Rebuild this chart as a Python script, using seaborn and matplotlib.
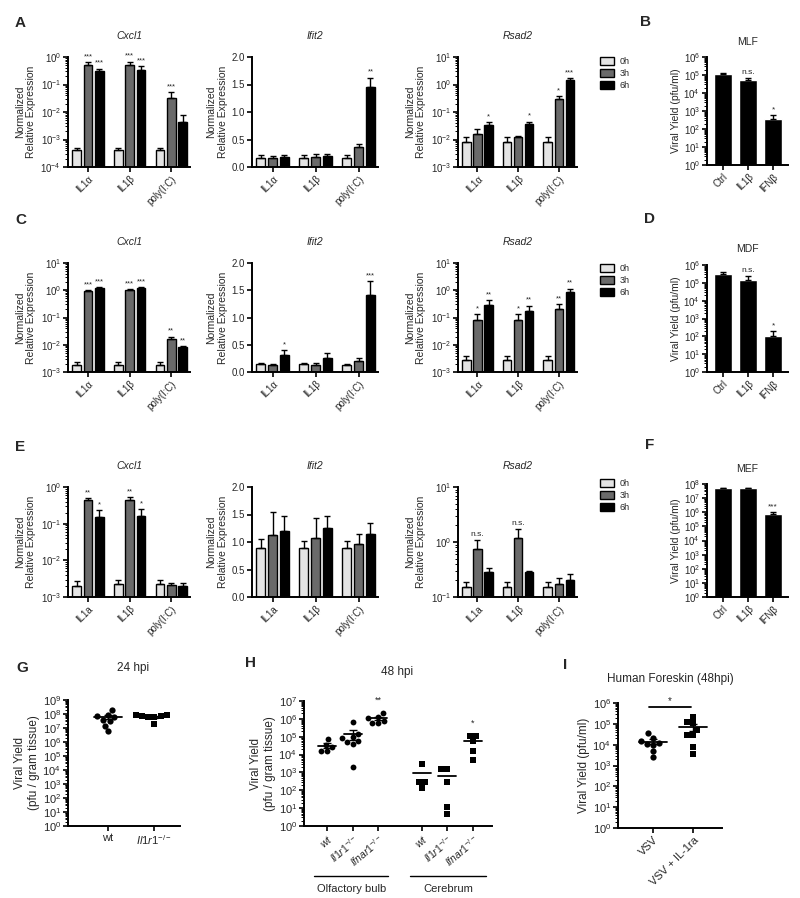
import numpy as np
import pandas as pd
import matplotlib
matplotlib.use('Agg')
import matplotlib.pyplot as plt
import seaborn as sns
from matplotlib.patches import Patch
from matplotlib.container import BarContainer
from matplotlib.ticker import LogLocator, NullFormatter
import warnings
warnings.filterwarnings('ignore')

sns.set_theme(style='ticks')
plt.rcParams['font.family'] = ['Liberation Sans', 'DejaVu Sans']
plt.rcParams['mathtext.fontset'] = 'custom'
plt.rcParams['mathtext.rm'] = 'Liberation Sans'
plt.rcParams['mathtext.it'] = 'Liberation Sans:italic'
plt.rcParams['mathtext.bf'] = 'Liberation Sans:bold'

# ---------------------------------------------------------------------------
# Data (rows = time point 0h/3h/6h, columns = stimulus)
# ---------------------------------------------------------------------------
times = ['0h', '3h', '6h']
stim = ['IL1α', 'IL1β', 'poly(I:C)']
stim_e = ['IL1a', 'IL1β', 'poly(I:C)']
treat = ['Ctrl', 'IL1β', 'IFNβ']

# Panel A
a_cxcl1 = [[4e-4, 4e-4, 4e-4], [0.5, 0.5, 0.033], [0.3, 0.35, 0.0045]]
a_cxcl1_err = [[1e-4, 1e-4, 1e-4], [0.15, 0.17, 0.02], [0.08, 0.12, 0.0035]]
a_cxcl1_sig = [['', '', ''], ['***', '***', '***'], ['***', '***', '']]
a_ifit2 = [[0.17, 0.17, 0.17], [0.16, 0.18, 0.36], [0.19, 0.20, 1.45]]
a_ifit2_err = [[0.04, 0.04, 0.04], [0.04, 0.05, 0.06], [0.03, 0.03, 0.17]]
a_ifit2_sig = [['', '', ''], ['', '', ''], ['', '', '**']]
a_rsad2 = [[0.008, 0.008, 0.008], [0.016, 0.012, 0.3], [0.033, 0.037, 1.5]]
a_rsad2_err = [[0.004, 0.004, 0.004], [0.008, 0.001, 0.08], [0.01, 0.008, 0.2]]
a_rsad2_sig = [['', '', ''], ['', '', '*'], ['*', '*', '***']]

# Panel C
c_cxcl1 = [[0.0018, 0.0018, 0.0018], [0.9, 1.0, 0.016], [1.25, 1.2, 0.008]]
c_cxcl1_err = [[0.0006, 0.0006, 0.0005], [0.1, 0.08, 0.004], [0.05, 0.1, 0.0008]]
c_cxcl1_sig = [['', '', ''], ['***', '***', '**'], ['***', '***', '**']]
c_ifit2 = [[0.14, 0.14, 0.13], [0.12, 0.13, 0.21], [0.32, 0.26, 1.42]]
c_ifit2_err = [[0.02, 0.03, 0.02], [0.02, 0.03, 0.04], [0.08, 0.08, 0.25]]
c_ifit2_sig = [['', '', ''], ['', '', ''], ['*', '', '***']]
c_rsad2 = [[0.0028, 0.0028, 0.0028], [0.08, 0.08, 0.2], [0.28, 0.17, 0.85]]
c_rsad2_err = [[0.001, 0.001, 0.001], [0.05, 0.05, 0.1], [0.15, 0.1, 0.3]]
c_rsad2_sig = [['', '', ''], ['*', '*', '**'], ['**', '**', '**']]

# Panel E
e_cxcl1 = [[0.002, 0.0022, 0.0022], [0.45, 0.45, 0.0021], [0.15, 0.16, 0.002]]
e_cxcl1_err = [[0.0008, 0.0008, 0.0008], [0.05, 0.08, 0.0003], [0.08, 0.09, 0.0004]]
e_cxcl1_sig = [['', '', ''], ['**', '**', ''], ['*', '*', '']]
e_ifit2 = [[0.9, 0.9, 0.9], [1.12, 1.08, 0.97], [1.2, 1.25, 1.15]]
e_ifit2_err = [[0.15, 0.12, 0.12], [0.42, 0.35, 0.18], [0.28, 0.22, 0.2]]
e_ifit2_sig = [['', '', ''], ['', '', ''], ['', '', '']]
e_rsad2 = [[0.15, 0.15, 0.15], [0.75, 1.2, 0.17], [0.28, 0.28, 0.2]]
e_rsad2_err = [[0.04, 0.04, 0.04], [0.35, 0.5, 0.05], [0.06, 0.02, 0.06]]
e_rsad2_sig = [['', '', ''], ['n.s.', 'n.s.', ''], ['', '', '']]

# Panels B, D, F (viral yield)
b_yield = [1.2e5, 5e4, 3.5e2]
b_err = [1.5e4, 1.5e4, 2.5e2]
d_yield = [3e5, 1.5e5, 1.1e2]
d_err = [8e4, 1e5, 8e1]
f_yield = [5e7, 5e7, 8e5]
f_err = [3e6, 5e6, 2e5]
b_sig = ['', 'n.s.', '*']
d_sig = ['', 'n.s.', '*']
f_sig = ['', '', '***']

# Panel G (24 hpi)
g_wt = [1.8e8, 8e7, 7e7, 6e7, 4e7, 3e7, 1.5e7, 6e6]
g_ko = [9e7, 8e7, 7e7, 7e7, 6e7, 6e7, 1.8e7]

# Panel H (48 hpi)
h_ob_wt = [7e4, 3.5e4, 2.5e4, 1.5e4, 1.6e4]
h_ob_il1r1 = [7e5, 1.5e5, 1e5, 8e4, 6e4, 5e4, 4e4, 2e3]
h_ob_ifnar1 = [2e6, 1.3e6, 1.1e6, 8e5, 6e5, 6e5]
h_cb_wt = [3e3, 3e2, 2.8e2, 1.4e2]
h_cb_il1r1 = [1.5e3, 1.5e3, 2.8e2, 11, 5]
h_cb_ifnar1 = [1.05e5, 1.05e5, 5.5e4, 1.6e4, 5e3]

# Panel I (human foreskin)
i_vsv = [3.5e4, 2.2e4, 1.5e4, 1.2e4, 1.1e4, 1e4, 5e3, 2.5e3]
i_ra = [2.2e5, 1.2e5, 1.1e5, 5e4, 3e4, 3e4, 8e3, 3.5e3]

bar_colors = ['#e4e4e4', '#6a6a6a', '#000000']

W, H = 800, 898
fig = plt.figure(figsize=(W / 100, H / 100), dpi=100)


def px_axes(x0, y0, x1, y1):
    return fig.add_axes([x0 / W, 1 - y1 / H, (x1 - x0) / W, (y1 - y0) / H])


def ftext(x, y, s, **kw):
    fig.text(x / W, 1 - y / H, s, **kw)


def style_axis(ax, log, lab=7):
    sns.despine(ax=ax)
    for sp in ['left', 'bottom']:
        ax.spines[sp].set_linewidth(1.4)
        ax.spines[sp].set_color('black')
    ax.tick_params(axis='both', which='major', direction='out', length=3.5,
                   width=1.2, labelsize=lab, pad=1.5, color='black')
    ax.tick_params(axis='y', which='minor', direction='out', length=2,
                   width=0.7, color='black')
    if log:
        ax.set_yscale('log')
        ax.yaxis.set_major_locator(LogLocator(base=10, numticks=30))
        ax.yaxis.set_minor_locator(LogLocator(base=10, subs=np.arange(2, 10), numticks=200))
        ax.yaxis.set_minor_formatter(NullFormatter())
    ax.grid(False)


def add_errors(ax, errs, sigs, cap=2.3, fs=5.5):
    bars = [c for c in ax.containers if isinstance(c, BarContainer)]
    for i, cont in enumerate(bars):
        for j, bar in enumerate(cont.patches):
            x = bar.get_x() + bar.get_width() / 2
            h = bar.get_height()
            ax.errorbar(x, h, yerr=[[0], [errs[i][j]]], fmt='none', ecolor='black',
                        elinewidth=1, capsize=cap, capthick=1, zorder=3)
            s = sigs[i][j]
            if s:
                ax.annotate(s, (x, h + errs[i][j]), xytext=(0, 1.5),
                            textcoords='offset points', ha='center', va='bottom',
                            fontsize=fs if '*' in s else 6, annotation_clip=False)


def expr_panel(rect, title, vals, errs, sigs, cats, ylim, log=True):
    ax = px_axes(*rect)
    df = pd.DataFrame([(c, t, vals[i][j]) for i, t in enumerate(times)
                       for j, c in enumerate(cats)], columns=['stim', 'time', 'value'])
    sns.barplot(data=df, x='stim', y='value', hue='time', order=cats, hue_order=times,
                palette=bar_colors, saturation=1, edgecolor='black', linewidth=1,
                errorbar=None, width=0.82, gap=0.25, legend=False, ax=ax)
    add_errors(ax, errs, sigs)
    style_axis(ax, log)
    ax.set_ylim(*ylim)
    if not log:
        ax.set_yticks([0, 0.5, 1.0, 1.5, 2.0])
        ax.set_yticklabels(['0.0', '0.5', '1.0', '1.5', '2.0'])
    ax.set_xlim(-0.48, 2.45)
    ax.set_xlabel('')
    ax.set_ylabel('Normalized\nRelative Expression', fontsize=7.5, labelpad=3)
    ax.set_xticks(range(3))
    ax.set_xticklabels(cats, rotation=45, ha='right', rotation_mode='anchor', fontsize=7)
    ax.set_title(title, fontsize=7.5, style='italic', pad=13)
    return ax


def yield_panel(rect, title, vals, errs, sigs, ymax):
    ax = px_axes(*rect)
    df = pd.DataFrame({'treat': treat, 'value': vals})
    sns.barplot(data=df, x='treat', y='value', color='black', saturation=1,
                width=0.72, errorbar=None, ax=ax)
    add_errors(ax, [errs], [sigs], cap=2.5, fs=6)
    style_axis(ax, True)
    ax.set_ylim(1, ymax)
    ax.set_xlim(-0.64, 2.6)
    ax.set_xlabel('')
    ax.set_ylabel('Viral Yield (pfu/ml)', fontsize=7.5, labelpad=2)
    ax.set_xticks(range(3))
    ax.set_xticklabels(treat, rotation=45, ha='right', rotation_mode='anchor', fontsize=7)
    ax.set_title(title, fontsize=7.5, pad=9)
    return ax


def legend_at(x, y):
    handles = [Patch(facecolor=c, edgecolor='black', linewidth=1) for c in bar_colors]
    fig.legend(handles, times, loc='upper left', bbox_to_anchor=(x / W, 1 - y / H),
               frameon=False, fontsize=6.5, handlelength=1.6, handleheight=0.9,
               labelspacing=0.35, handletextpad=0.6, borderaxespad=0, borderpad=0)


# ---------------------------------------------------------------------------
# Rows A, C, E
# ---------------------------------------------------------------------------
rows = [
    (57, 167, stim, [(a_cxcl1, a_cxcl1_err, a_cxcl1_sig, (1e-4, 1)),
                     (a_ifit2, a_ifit2_err, a_ifit2_sig, (0, 2)),
                     (a_rsad2, a_rsad2_err, a_rsad2_sig, (1e-3, 10))]),
    (263, 372, stim, [(c_cxcl1, c_cxcl1_err, c_cxcl1_sig, (1e-3, 10)),
                      (c_ifit2, c_ifit2_err, c_ifit2_sig, (0, 2)),
                      (c_rsad2, c_rsad2_err, c_rsad2_sig, (1e-3, 10))]),
    (487, 597, stim_e, [(e_cxcl1, e_cxcl1_err, e_cxcl1_sig, (1e-3, 1)),
                        (e_ifit2, e_ifit2_err, e_ifit2_sig, (0, 2)),
                        (e_rsad2, e_rsad2_err, e_rsad2_sig, (1e-1, 10))]),
]
xspans = [(68, 190), (252, 378), (458, 577)]
genes = ['Cxcl1', 'Ifit2', 'Rsad2']
for top, bot, cats, panels in rows:
    for k, (vals, errs, sigs, ylim) in enumerate(panels):
        x0, x1 = xspans[k]
        expr_panel((x0, top, x1, bot), genes[k], vals, errs, sigs, cats, ylim,
                   log=(genes[k] != 'Ifit2'))

legend_at(600, 57)
legend_at(600, 264)
legend_at(600, 479)

yield_panel((707, 57, 788, 165), 'MLF', b_yield, b_err, b_sig, 1e6)
yield_panel((707, 265, 788, 372), 'MDF', d_yield, d_err, d_sig, 1e6)
yield_panel((707, 484, 788, 597), 'MEF', f_yield, f_err, f_sig, 1e8)


# ---------------------------------------------------------------------------
# Scatter panels G, H, I
# ---------------------------------------------------------------------------
def mean_sem(ax, x, vals, half, sem=True):
    v = np.array(vals)
    m = v.mean()
    ax.plot([x - half, x + half], [m, m], color='black', lw=1.3, zorder=4)
    if sem:
        s = v.std(ddof=1) / np.sqrt(len(v))
        ax.errorbar(x, m, yerr=s, fmt='none', ecolor='black', elinewidth=1,
                    capsize=3, capthick=1, zorder=4)


def scatter_style(ax, ymax):
    style_axis(ax, True, lab=8)
    ax.set_ylim(1, ymax)
    ax.set_ylabel('Viral Yield\n(pfu / gram tissue)', fontsize=8.5, labelpad=2)
    ax.set_xlabel('')


# G
ax = px_axes(68, 700, 180, 826)
g_cats = ['wt', 'Il1r1']
ax.set_yscale('log')
sns.swarmplot(data=pd.DataFrame({'g': 'wt', 'v': g_wt}), x='g', y='v', order=g_cats,
              color='black', marker='o', size=4.5, linewidth=0, ax=ax)
sns.swarmplot(data=pd.DataFrame({'g': 'Il1r1', 'v': g_ko}), x='g', y='v', order=g_cats,
              color='black', marker='s', size=4.3, linewidth=0, ax=ax)
mean_sem(ax, 0, g_wt, 0.3)
mean_sem(ax, 1, g_ko, 0.3)
scatter_style(ax, 1e9)
ax.set_xlim(-0.85, 1.55)
ax.set_xticks([0, 1])
ax.set_xticklabels(['wt', r'$\mathit{Il1r1}^{-/-}$'], fontsize=8)
ftext(133, 668, '24 hpi', fontsize=8.5, ha='center', va='center')

# H
ax = px_axes(304, 701, 492, 826)
ax.set_yscale('log')
h_groups = [h_ob_wt, h_ob_il1r1, h_ob_ifnar1, h_cb_wt, h_cb_il1r1, h_cb_ifnar1]
h_pos = [0, 1, 2, 3.7, 4.7, 5.7]
h_marks = ['o', 'o', 'o', 's', 's', 's']
h_sig = ['', '', '**', '', '', '*']
for vals, pos, mk, sg in zip(h_groups, h_pos, h_marks, h_sig):
    sns.swarmplot(x=[pos] * len(vals), y=vals, native_scale=True, orient='v',
                  color='black', marker=mk, size=4.2, linewidth=0, ax=ax)
    mean_sem(ax, pos, vals, 0.35, sem=(pos < 3))
    if sg:
        ax.annotate(sg, (pos, max(vals)), xytext=(0, 6), textcoords='offset points',
                    ha='center', va='bottom', fontsize=6.5, annotation_clip=False)
scatter_style(ax, 1e7)
ax.set_xlim(-0.9, 6.45)
ax.set_xticks(h_pos)
h_labels = [r'$\mathit{wt}$', r'$\mathit{Il1r1}^{-/-}$', r'$\mathit{Ifnar1}^{-/-}$'] * 2
ax.set_xticklabels(h_labels, rotation=40, ha='right', rotation_mode='anchor', fontsize=7.5)
xt = ax.get_xaxis_transform()
for lo, hi, name in [(-0.5, 2.4, 'Olfactory bulb'), (3.25, 6.2, 'Cerebrum')]:
    ax.plot([lo, hi], [-0.40, -0.40], color='black', lw=1, transform=xt, clip_on=False)
    ax.text((lo + hi) / 2, -0.50, name, transform=xt, ha='center', va='center', fontsize=8)
ftext(397, 672, '48 hpi', fontsize=8.5, ha='center', va='center')

# I
ax = px_axes(618, 703, 722, 828)
i_cats = ['VSV', 'VSV + IL-1ra']
ax.set_yscale('log')
sns.swarmplot(data=pd.DataFrame({'g': 'VSV', 'v': i_vsv}), x='g', y='v', order=i_cats,
              color='black', marker='o', size=4.5, linewidth=0, ax=ax)
sns.swarmplot(data=pd.DataFrame({'g': 'VSV + IL-1ra', 'v': i_ra}), x='g', y='v',
              order=i_cats, color='black', marker='s', size=4.3, linewidth=0, ax=ax)
mean_sem(ax, 0, i_vsv, 0.35)
mean_sem(ax, 1, i_ra, 0.35)
scatter_style(ax, 1e6)
ax.set_ylabel('Viral Yield (pfu/ml)', fontsize=8.5, labelpad=2)
ax.set_xlim(-0.875, 1.72)
ax.set_xticks([0, 1])
ax.set_xticklabels(i_cats, rotation=45, ha='right', rotation_mode='anchor', fontsize=8)
ax.plot([-0.1, 0.95], [6.5e5, 6.5e5], color='black', lw=1.3, clip_on=False)
ax.text(0.42, 7.5e5, '*', ha='center', va='bottom', fontsize=7)
ftext(670, 679, 'Human Foreskin (48hpi)', fontsize=8.5, ha='center', va='center')

# Panel letters
for s, x, y in [('A', 15, 23), ('B', 640, 22), ('C', 15, 220), ('D', 644, 219),
                ('E', 15, 447), ('F', 645, 445), ('G', 16, 668), ('H', 245, 663),
                ('I', 563, 665)]:
    ftext(x, y, s, fontsize=11, weight='bold', ha='left', va='center')

fig.savefig('out.png', dpi=100)
